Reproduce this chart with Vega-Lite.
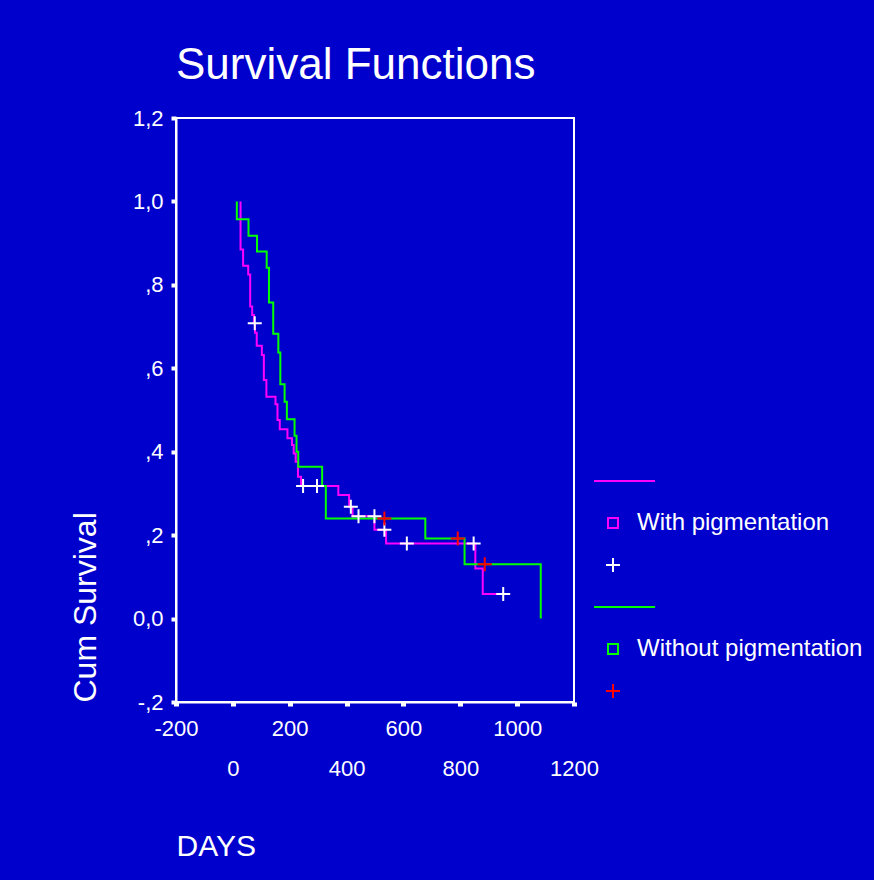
{
  "$schema": "https://vega.github.io/schema/vega-lite/v6.json",
  "width": 398,
  "height": 584,
  "autosize": {"type": "none"},
  "padding": {"left": 176, "top": 118, "right": 300, "bottom": 178},
  "background": "#0000CC",
  "title": {
    "text": "Survival Functions",
    "anchor": "start",
    "frame": "group",
    "font": "Liberation Sans",
    "fontSize": 44,
    "fontWeight": "normal",
    "color": "white",
    "baseline": "alphabetic",
    "offset": -16
  },
  "datasets": {
    "curves": [
      {"group": "With pigmentation", "k": 0, "day": 27, "surv": 1.0},
      {"group": "With pigmentation", "k": 1, "day": 27, "surv": 0.885},
      {"group": "With pigmentation", "k": 2, "day": 36, "surv": 0.846},
      {"group": "With pigmentation", "k": 3, "day": 54, "surv": 0.825},
      {"group": "With pigmentation", "k": 4, "day": 61, "surv": 0.748},
      {"group": "With pigmentation", "k": 5, "day": 68, "surv": 0.728},
      {"group": "With pigmentation", "k": 6, "day": 74, "surv": 0.708},
      {"group": "With pigmentation", "k": 7, "day": 78, "surv": 0.685},
      {"group": "With pigmentation", "k": 8, "day": 84, "surv": 0.654},
      {"group": "With pigmentation", "k": 9, "day": 102, "surv": 0.632},
      {"group": "With pigmentation", "k": 10, "day": 109, "surv": 0.572},
      {"group": "With pigmentation", "k": 11, "day": 118, "surv": 0.532},
      {"group": "With pigmentation", "k": 12, "day": 150, "surv": 0.514},
      {"group": "With pigmentation", "k": 13, "day": 157, "surv": 0.476},
      {"group": "With pigmentation", "k": 14, "day": 165, "surv": 0.454},
      {"group": "With pigmentation", "k": 15, "day": 192, "surv": 0.432},
      {"group": "With pigmentation", "k": 16, "day": 208, "surv": 0.416},
      {"group": "With pigmentation", "k": 17, "day": 214, "surv": 0.396},
      {"group": "With pigmentation", "k": 18, "day": 221, "surv": 0.376},
      {"group": "With pigmentation", "k": 19, "day": 229, "surv": 0.34},
      {"group": "With pigmentation", "k": 20, "day": 240, "surv": 0.318},
      {"group": "With pigmentation", "k": 21, "day": 371, "surv": 0.296},
      {"group": "With pigmentation", "k": 22, "day": 409, "surv": 0.268},
      {"group": "With pigmentation", "k": 23, "day": 421, "surv": 0.245},
      {"group": "With pigmentation", "k": 24, "day": 498, "surv": 0.213},
      {"group": "With pigmentation", "k": 25, "day": 539, "surv": 0.18},
      {"group": "With pigmentation", "k": 26, "day": 853, "surv": 0.12},
      {"group": "With pigmentation", "k": 27, "day": 879, "surv": 0.059},
      {"group": "With pigmentation", "k": 28, "day": 951, "surv": 0.059},
      {"group": "Without pigmentation", "k": 0, "day": 14, "surv": 1.0},
      {"group": "Without pigmentation", "k": 1, "day": 14, "surv": 0.957},
      {"group": "Without pigmentation", "k": 2, "day": 55, "surv": 0.918},
      {"group": "Without pigmentation", "k": 3, "day": 85, "surv": 0.88},
      {"group": "Without pigmentation", "k": 4, "day": 119, "surv": 0.841},
      {"group": "Without pigmentation", "k": 5, "day": 127, "surv": 0.758},
      {"group": "Without pigmentation", "k": 6, "day": 142, "surv": 0.683},
      {"group": "Without pigmentation", "k": 7, "day": 160, "surv": 0.638},
      {"group": "Without pigmentation", "k": 8, "day": 167, "surv": 0.562},
      {"group": "Without pigmentation", "k": 9, "day": 182, "surv": 0.52},
      {"group": "Without pigmentation", "k": 10, "day": 190, "surv": 0.478},
      {"group": "Without pigmentation", "k": 11, "day": 217, "surv": 0.438},
      {"group": "Without pigmentation", "k": 12, "day": 224, "surv": 0.4},
      {"group": "Without pigmentation", "k": 13, "day": 230, "surv": 0.364},
      {"group": "Without pigmentation", "k": 14, "day": 314, "surv": 0.318},
      {"group": "Without pigmentation", "k": 15, "day": 327, "surv": 0.24},
      {"group": "Without pigmentation", "k": 16, "day": 677, "surv": 0.192},
      {"group": "Without pigmentation", "k": 17, "day": 815, "surv": 0.13},
      {"group": "Without pigmentation", "k": 18, "day": 1083, "surv": 0.0}
    ],
    "censored": [
      {"key": "c", "day": 77, "surv": 0.708},
      {"key": "c", "day": 247, "surv": 0.318},
      {"key": "c", "day": 296, "surv": 0.318},
      {"key": "c", "day": 415, "surv": 0.268},
      {"key": "c", "day": 442, "surv": 0.245},
      {"key": "c", "day": 498, "surv": 0.245},
      {"key": "c", "day": 533, "surv": 0.213},
      {"key": "c", "day": 612, "surv": 0.18},
      {"key": "c", "day": 847, "surv": 0.18},
      {"key": "c", "day": 951, "surv": 0.059},
      {"key": "f", "day": 533, "surv": 0.24},
      {"key": "f", "day": 791, "surv": 0.192},
      {"key": "f", "day": 886, "surv": 0.13}
    ]
  },
  "layer": [
    {
      "data": {"name": "curves"},
      "mark": {"type": "line", "interpolate": "step-after", "strokeWidth": 2},
      "encoding": {
        "x": {
          "field": "day",
          "type": "quantitative",
          "scale": {"domain": [-200, 1200], "nice": false, "zero": false},
          "axis": {
            "values": [-200, 0, 200, 400, 600, 800, 1000, 1200],
            "labelExpr": "'' + datum.value",
            "title": "DAYS",
            "titleFont": "Liberation Sans",
            "titleFontSize": 30,
            "titleFontWeight": "normal",
            "titleColor": "white",
            "titleAnchor": "start",
            "titleAlign": "left",
            "titlePadding": 52,
            "labelFont": "Liberation Sans",
            "labelFontSize": 22,
            "labelColor": "white",
            "labelPadding": {"condition": {"test": "datum.value % 400 == 0", "value": 52}, "value": 12},
            "labelFlush": false,
            "labelOverlap": false,
            "grid": false,
            "domainColor": "white",
            "domainWidth": 2,
            "tickColor": "white",
            "tickSize": 4,
            "tickWidth": 5
          }
        },
        "y": {
          "field": "surv",
          "type": "quantitative",
          "scale": {"domain": [-0.2, 1.2], "nice": false, "zero": false},
          "axis": {
            "values": [-0.2, 0, 0.2, 0.4, 0.6, 0.8, 1, 1.2],
            "labelExpr": "datum.value == 0 ? '0,0' : (abs(datum.value) >= 1 ? replace(format(datum.value, '.1f'), '.', ',') : (datum.value < 0 ? '-' : '') + replace(format(abs(datum.value), '.1f'), '0.', ','))",
            "title": "Cum Survival",
            "titleFont": "Liberation Sans",
            "titleFontSize": 32,
            "titleFontWeight": "normal",
            "titleColor": "white",
            "titleAnchor": "start",
            "titlePadding": 30,
            "labelFont": "Liberation Sans",
            "labelFontSize": 22,
            "labelColor": "white",
            "labelPadding": 8,
            "grid": false,
            "domainColor": "white",
            "domainWidth": 2,
            "tickColor": "white",
            "tickSize": 5,
            "tickWidth": 4
          }
        },
        "color": {
          "field": "group",
          "type": "nominal",
          "scale": {"domain": ["With pigmentation", "Without pigmentation"], "range": ["#FF00FF", "#00FF00"]},
          "legend": null
        },
        "order": {"field": "k", "type": "quantitative"}
      }
    },
    {
      "data": {"name": "censored"},
      "mark": {"type": "point", "filled": false, "size": 100, "strokeWidth": 2, "opacity": 1},
      "encoding": {
        "x": {"field": "day", "type": "quantitative"},
        "y": {"field": "surv", "type": "quantitative"},
        "shape": {
          "field": "key",
          "type": "nominal",
          "scale": {
            "domain": ["a", "b", "c", "d", "e", "f"],
            "range": ["M-3.8,0H8.4", "square", "M-1.4,0H1.4M0,-1.4V1.4", "M-3.8,0H8.4", "square", "M-1.4,0H1.4M0,-1.4V1.4"]
          },
          "legend": {
            "orient": "none",
            "legendX": 425,
            "legendY": 351,
            "title": null,
            "padding": 0,
            "symbolSize": 100,
            "symbolStrokeWidth": 2,
            "symbolOpacity": 1,
            "labelFont": "Liberation Sans",
            "labelFontSize": 24,
            "labelColor": "white",
            "labelOffset": 12,
            "labelLimit": 400,
            "rowPadding": 18,
            "labelExpr": "datum.value == 'b' ? 'With pigmentation' : (datum.value == 'e' ? 'Without pigmentation' : '')"
          }
        },
        "stroke": {
          "field": "key",
          "type": "nominal",
          "scale": {
            "domain": ["a", "b", "c", "d", "e", "f"],
            "range": ["#FF00FF", "#FF00FF", "#FFFFFF", "#00FF00", "#00FF00", "#FF0000"]
          },
          "legend": {
            "orient": "none",
            "legendX": 425,
            "legendY": 351,
            "title": null,
            "padding": 0,
            "symbolSize": 100,
            "symbolStrokeWidth": 2,
            "symbolOpacity": 1,
            "labelFont": "Liberation Sans",
            "labelFontSize": 24,
            "labelColor": "white",
            "labelOffset": 12,
            "labelLimit": 400,
            "rowPadding": 18,
            "labelExpr": "datum.value == 'b' ? 'With pigmentation' : (datum.value == 'e' ? 'Without pigmentation' : '')"
          }
        }
      }
    }
  ],
  "config": {
    "view": {"stroke": "white", "strokeWidth": 2},
    "axis": {"grid": false}
  }
}
